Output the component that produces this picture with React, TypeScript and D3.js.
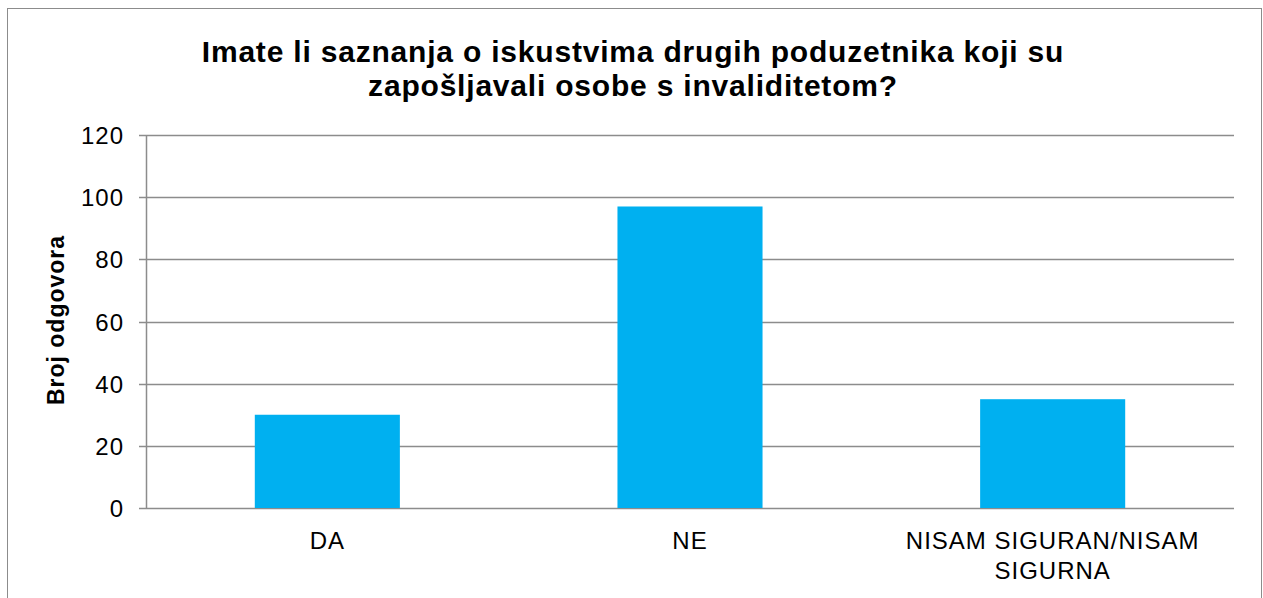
import React from 'react';
import * as d3 from 'd3';

const categories = ['DA', 'NE', 'NISAM SIGURAN/NISAM SIGURNA'];
const values = [30, 97, 35];
const yTicks = [0, 20, 40, 60, 80, 100, 120];
const titleLines = [
  'Imate li saznanja o iskustvima drugih poduzetnika koji su',
  'zapošljavali osobe s invaliditetom?',
];
const yTitle = 'Broj odgovora';

// label lines for the long category
const labelLines: Record<string, string[]> = {
  'NISAM SIGURAN/NISAM SIGURNA': ['NISAM SIGURAN/NISAM', 'SIGURNA'],
};

export default function App() {
  const width = 1263;
  const height = 598;
  const left = 146;
  const right = 1234;
  const top = 135;
  const bottom = 508;

  const x = d3
    .scaleBand<string>()
    .domain(categories)
    .range([left, right])
    .paddingInner(0.6)
    .paddingOuter(0.3);

  const y = d3.scaleLinear().domain([0, 120]).range([bottom, top]);

  const font = '"Liberation Sans", Arial, sans-serif';

  return (
    <svg
      width={width}
      height={height}
      style={{ position: 'absolute', left: 0, top: 0, background: '#fff' }}
      fontFamily={font}
    >
      <rect x={7.5} y={8.5} width={1254} height={620} fill="#fff" stroke="#8c8c8c" strokeWidth={1} />

      {titleLines.map((t, i) => (
        <text
          key={i}
          x={633}
          y={62 + i * 34}
          textAnchor="middle"
          fontSize={30}
          fontWeight="bold"
          letterSpacing={0.8}
          fill="#000"
        >
          {t}
        </text>
      ))}

      {/* gridlines and y ticks */}
      {yTicks.map((t) => (
        <g key={t} transform={`translate(0, ${Math.round(y(t)) + 0.5})`}>
          <line x1={left - 7} x2={right} stroke="#8c8c8c" strokeWidth={1.5} />
          <text x={124} dy="0.35em" textAnchor="end" fontSize={24} letterSpacing={1} fill="#000">
            {t}
          </text>
        </g>
      ))}
      <line x1={left + 0.5} x2={left + 0.5} y1={top} y2={bottom + 1} stroke="#8c8c8c" strokeWidth={1.5} />

      {/* bars */}
      {categories.map((c, i) => (
        <rect
          key={c}
          x={x(c)}
          y={y(values[i])}
          width={x.bandwidth()}
          height={bottom - y(values[i])}
          fill="#00B0F0"
        />
      ))}

      {/* x labels */}
      {categories.map((c) => {
        const lines = labelLines[c] || [c];
        const cx = (x(c) as number) + x.bandwidth() / 2;
        return (
          <text key={c} x={cx} textAnchor="middle" fontSize={24} letterSpacing={1} fill="#000">
            {lines.map((l, j) => (
              <tspan key={j} x={cx} y={549 + j * 30}>
                {l}
              </tspan>
            ))}
          </text>
        );
      })}

      <text
        transform={`translate(64, 320) rotate(-90)`}
        textAnchor="middle"
        fontSize={23}
        fontWeight="bold"
        letterSpacing={1}
        fill="#000"
      >
        {yTitle}
      </text>
    </svg>
  );
}
